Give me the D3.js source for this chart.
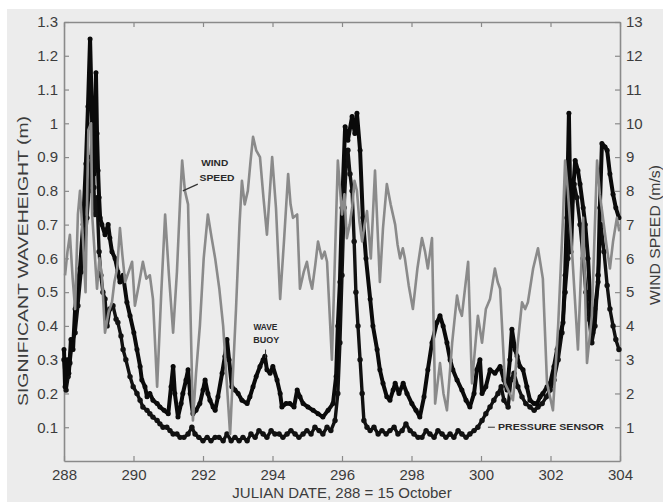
<!DOCTYPE html>
<html><head><meta charset="utf-8">
<script src="https://cdn.jsdelivr.net/npm/d3@7"></script>
<style>body{margin:0;background:#ececec}svg{display:block}</style>
</head><body>
<svg id="c" width="663" height="502"></svg>
<script>
// ---------- DATA ----------
const xTicks = [288,290,292,294,296,298,300,302,304];
const leftTicks = [0.1,0.2,0.3,0.4,0.5,0.6,0.7,0.8,0.9,1,1.1,1.2,1.3];
const leftTickLabels = ["0.1","0.2","0.3","0.4","0.5","0.6","0.7","0.8","0.9","1","1.1","1.2","1.3"];
const rightTicks = [1,2,3,4,5,6,7,8,9,10,11,12,13];

const windDay = [288.03,288.10,288.17,288.25,288.32,288.40,288.46,288.55,288.62,288.70,288.78,288.81,288.88,288.95,289.02,289.09,289.18,289.28,289.38,289.45,289.53,289.61,289.68,289.76,289.86,289.96,290.04,290.15,290.27,290.37,290.47,290.56,290.68,290.80,290.91,291.02,291.14,291.25,291.34,291.40,291.48,291.57,291.71,291.80,291.91,292.02,292.14,292.25,292.35,292.47,292.58,292.78,292.95,293.05,293.12,293.20,293.29,293.37,293.44,293.53,293.64,293.74,293.84,293.99,294.10,294.22,294.33,294.45,294.52,294.59,294.71,294.79,294.90,294.99,295.07,295.14,295.23,295.31,295.42,295.50,295.57,295.71,295.88,296.00,296.07,296.14,296.22,296.29,296.36,296.43,296.50,296.58,296.65,296.72,296.83,296.95,297.09,297.18,297.29,297.40,297.53,297.60,297.67,297.75,297.81,297.92,298.04,298.17,298.30,298.39,298.47,298.59,298.68,298.82,298.92,299.02,299.17,299.31,299.38,299.45,299.55,299.63,299.74,299.91,300.03,300.14,300.26,300.40,300.48,300.55,300.69,300.92,301.06,301.18,301.27,301.35,301.50,301.64,301.78,301.90,302.07,302.22,302.36,302.42,302.50,302.62,302.79,302.94,303.05,303.19,303.34,303.42,303.51,303.61,303.71,303.80,303.91,303.98];
const windSpeed = [5.5,6.2,6.7,5.4,4.5,7.3,8.0,6.5,5.0,9.8,10.0,7.3,6.2,5.1,6.0,5.5,3.8,4.4,4.7,5.3,5.7,6.9,6.1,5.3,5.6,5.9,4.6,5.2,5.9,5.4,5.5,4.8,2.2,5.0,7.3,5.5,3.8,5.6,7.7,8.9,8.0,7.6,1.2,2.6,4.0,6.0,7.3,6.6,6.0,5.1,4.0,0.8,4.5,7.0,8.3,7.6,8.0,8.9,9.6,9.2,9.0,7.8,6.7,9.0,7.5,4.8,6.5,8.5,7.6,7.2,7.3,5.1,5.6,5.9,5.4,5.1,5.8,6.5,6.0,6.2,5.9,3.0,8.9,7.3,7.9,6.6,7.0,7.5,8.3,8.0,7.1,6.5,7.0,7.4,6.0,8.6,5.3,6.9,8.2,7.6,7.0,6.4,6.0,6.3,6.0,5.2,4.5,5.7,6.6,6.2,5.7,6.6,1.7,2.9,2.0,1.5,3.5,4.9,4.5,4.3,5.2,5.9,2.3,4.3,3.5,4.5,4.8,5.7,5.3,5.1,2.3,1.8,3.5,4.7,4.5,4.7,5.7,6.3,5.4,2.3,1.5,4.0,7.2,8.9,8.0,6.2,3.3,7.2,2.9,4.3,8.9,7.9,7.2,6.4,5.7,6.5,7.2,6.8];

const buoyDay = [288.00,288.03,288.09,288.14,288.20,288.26,288.32,288.40,288.46,288.55,288.63,288.69,288.75,288.81,288.86,288.92,288.95,288.98,289.01,289.04,289.09,289.18,289.27,289.32,289.38,289.47,289.55,289.61,289.70,289.81,289.90,290.01,290.10,290.19,290.24,290.33,290.39,290.47,290.56,290.68,290.76,290.88,291.00,291.08,291.14,291.19,291.28,291.37,291.42,291.51,291.57,291.63,291.71,291.80,291.91,292.00,292.06,292.14,292.20,292.29,292.35,292.43,292.55,292.63,292.69,292.75,292.83,292.92,293.01,293.12,293.27,293.35,293.44,293.53,293.64,293.73,293.78,293.84,293.93,294.01,294.13,294.22,294.27,294.39,294.50,294.62,294.71,294.79,294.88,295.02,295.17,295.31,295.45,295.60,295.74,295.83,295.88,295.94,296.00,296.09,296.17,296.29,296.37,296.43,296.52,296.60,296.69,296.81,296.89,297.01,297.09,297.18,297.29,297.38,297.47,297.53,297.64,297.76,297.87,298.01,298.13,298.24,298.36,298.47,298.59,298.73,298.82,298.91,299.02,299.11,299.19,299.31,299.45,299.57,299.68,299.80,299.88,299.97,300.03,300.14,300.26,300.40,300.55,300.66,300.75,300.83,300.89,300.98,301.04,301.12,301.21,301.32,301.41,301.53,301.61,301.70,301.78,301.90,301.99,302.10,302.19,302.27,302.36,302.42,302.47,302.53,302.59,302.65,302.71,302.79,302.85,302.94,303.00,303.08,303.14,303.22,303.28,303.37,303.42,303.48,303.57,303.63,303.71,303.80,303.88,303.97];
const buoyHs = [0.33,0.22,0.30,0.26,0.36,0.33,0.45,0.53,0.57,0.70,0.88,1.05,1.25,1.00,0.85,1.15,0.97,0.86,0.78,0.72,0.70,0.67,0.70,0.66,0.62,0.60,0.56,0.53,0.55,0.47,0.43,0.38,0.33,0.28,0.24,0.22,0.19,0.20,0.18,0.17,0.16,0.15,0.14,0.22,0.28,0.20,0.13,0.17,0.20,0.24,0.27,0.20,0.14,0.15,0.17,0.21,0.24,0.20,0.18,0.16,0.15,0.19,0.26,0.31,0.36,0.30,0.22,0.21,0.20,0.18,0.17,0.19,0.22,0.25,0.28,0.30,0.31,0.27,0.26,0.28,0.24,0.20,0.16,0.17,0.17,0.16,0.21,0.19,0.17,0.16,0.15,0.14,0.13,0.15,0.17,0.25,0.40,0.53,0.75,0.99,0.95,1.02,0.97,1.03,0.92,0.72,0.60,0.48,0.40,0.33,0.27,0.23,0.19,0.18,0.21,0.23,0.20,0.23,0.20,0.17,0.15,0.13,0.19,0.27,0.35,0.41,0.43,0.40,0.35,0.30,0.27,0.24,0.21,0.18,0.16,0.20,0.27,0.30,0.20,0.22,0.27,0.26,0.28,0.24,0.21,0.30,0.39,0.33,0.31,0.28,0.27,0.22,0.18,0.17,0.17,0.19,0.20,0.22,0.23,0.28,0.33,0.37,0.41,0.55,0.72,1.03,0.62,0.80,0.89,0.86,0.82,0.75,0.70,0.60,0.48,0.38,0.45,0.53,0.75,0.94,0.93,0.92,0.85,0.79,0.75,0.72];

const pressDay = [288.00,288.06,288.12,288.17,288.23,288.32,288.40,288.49,288.58,288.66,288.72,288.78,288.83,288.86,288.89,288.95,289.01,289.06,289.12,289.18,289.24,289.32,289.41,289.50,289.55,289.64,289.70,289.78,289.90,289.99,290.10,290.19,290.27,290.39,290.47,290.56,290.68,290.76,290.85,290.96,291.05,291.14,291.25,291.34,291.45,291.57,291.68,291.77,291.88,292.00,292.12,292.23,292.35,292.46,292.58,292.69,292.81,292.92,293.04,293.15,293.27,293.38,293.50,293.61,293.73,293.84,293.96,294.07,294.19,294.30,294.42,294.53,294.65,294.76,294.88,294.99,295.11,295.22,295.34,295.45,295.57,295.68,295.80,295.88,295.94,296.00,296.06,296.12,296.17,296.23,296.29,296.35,296.40,296.46,296.52,296.58,296.63,296.72,296.81,296.92,297.04,297.15,297.27,297.38,297.50,297.61,297.73,297.84,297.96,298.07,298.19,298.30,298.42,298.53,298.65,298.76,298.88,298.99,299.11,299.22,299.34,299.45,299.57,299.68,299.80,299.91,300.03,300.14,300.26,300.37,300.49,300.58,300.66,300.78,300.86,300.95,301.06,301.18,301.29,301.41,301.53,301.64,301.76,301.88,301.99,302.10,302.22,302.33,302.42,302.50,302.59,302.68,302.76,302.85,302.94,303.02,303.11,303.19,303.28,303.37,303.45,303.54,303.63,303.71,303.80,303.88,303.97];
const pressHs = [0.30,0.21,0.25,0.29,0.35,0.38,0.46,0.56,0.62,0.72,0.80,0.90,1.00,0.81,0.73,0.78,0.62,0.55,0.50,0.48,0.40,0.45,0.46,0.42,0.41,0.37,0.33,0.30,0.25,0.22,0.20,0.18,0.16,0.15,0.14,0.13,0.12,0.11,0.10,0.10,0.09,0.08,0.08,0.07,0.07,0.08,0.10,0.08,0.07,0.06,0.07,0.06,0.07,0.07,0.06,0.08,0.06,0.07,0.06,0.07,0.06,0.08,0.07,0.09,0.08,0.07,0.09,0.08,0.08,0.07,0.08,0.09,0.08,0.07,0.08,0.09,0.08,0.10,0.09,0.08,0.10,0.09,0.12,0.20,0.35,0.55,0.75,0.88,0.92,0.85,0.80,0.65,0.50,0.40,0.30,0.20,0.12,0.10,0.09,0.10,0.08,0.09,0.08,0.09,0.10,0.08,0.09,0.11,0.09,0.08,0.07,0.07,0.09,0.08,0.07,0.09,0.08,0.07,0.08,0.07,0.09,0.08,0.07,0.08,0.09,0.10,0.12,0.14,0.16,0.18,0.20,0.22,0.18,0.16,0.24,0.26,0.22,0.19,0.17,0.16,0.15,0.16,0.17,0.19,0.21,0.24,0.30,0.38,0.50,0.60,0.72,0.82,0.78,0.70,0.60,0.50,0.42,0.35,0.40,0.55,0.70,0.62,0.52,0.45,0.40,0.36,0.33];

const annotations = [
  {text:"WIND", day:291.95, val:8.75, axis:"R", len:27},
  {text:"SPEED", day:291.9, val:8.3, axis:"R", len:35},
  {text:"WAVE", day:293.45, val:0.388, axis:"L", len:24},
  {text:"BUOY", day:293.45, val:0.35, axis:"L", len:26},
  {text:"PRESSURE SENSOR", day:300.49, val:0.092, axis:"L", len:106}
];

// ---------- CHART ----------
const W = 663, H = 502;
const m = {l:64, r:620, t:22, b:461};
const svg = d3.select("#c");
svg.append("rect").attr("width",W).attr("height",H).attr("fill","#ececec");
svg.append("rect").attr("width",W).attr("height",9).attr("fill","#ffffff");
svg.append("rect").attr("width",7).attr("height",H).attr("fill","#ffffff");

const x = d3.scaleLinear().domain([288,304]).range([m.l,m.r]);
const yL = d3.scaleLinear().domain([0,1.3]).range([m.b,m.t]);
const yR = d3.scaleLinear().domain([0,13]).range([m.b,m.t]);

const font = "'Liberation Sans', Arial, sans-serif";
const txtCol = "#3c3c3c";
const axCol = "#8a8a8a";

function styleAxis(g){
  g.selectAll(".domain").attr("stroke",axCol).attr("stroke-width",1.6);
  g.selectAll(".tick line").attr("stroke",axCol).attr("stroke-width",1.2);
  g.selectAll(".tick text").attr("fill",txtCol).style("font-family",font).style("font-size","15px");
}

svg.append("g").attr("transform",`translate(0,${m.b})`)
  .call(d3.axisBottom(x).tickValues(xTicks).tickFormat(d3.format("d")).tickSizeInner(-5).tickSizeOuter(0).tickPadding(8))
  .call(styleAxis);
svg.append("g").attr("transform",`translate(0,${m.t})`)
  .call(d3.axisTop(x).tickValues(xTicks).tickFormat("").tickSizeInner(-5).tickSizeOuter(0))
  .call(styleAxis);
svg.append("g").attr("transform",`translate(${m.l},0)`)
  .call(d3.axisLeft(yL).tickValues(leftTicks).tickFormat((d,i)=>leftTickLabels[i]).tickSizeInner(-5).tickSizeOuter(0).tickPadding(6))
  .call(styleAxis);
svg.append("g").attr("transform",`translate(${m.r},0)`)
  .call(d3.axisRight(yR).tickValues(rightTicks).tickFormat(d3.format("d")).tickSizeInner(-5).tickSizeOuter(0).tickPadding(6))
  .call(styleAxis);

// series
const lineL = d3.line().x(d=>x(d[0])).y(d=>yL(d[1]));
const lineR = d3.line().x(d=>x(d[0])).y(d=>yR(d[1]));
const pressData = pressDay.map((d,i)=>[d,pressHs[i]]);
const buoyData = buoyDay.map((d,i)=>[d,buoyHs[i]]);
const windData = windDay.map((d,i)=>[d,windSpeed[i]]);

svg.append("path").datum(pressData).attr("d",lineL).attr("fill","none")
  .attr("stroke","#111").attr("stroke-width",3.4).attr("stroke-linejoin","round");
svg.append("g").selectAll("circle").data(pressData).join("circle")
  .attr("cx",d=>x(d[0])).attr("cy",d=>yL(d[1])).attr("r",2.7).attr("fill","#111");

svg.append("path").datum(buoyData).attr("d",lineL).attr("fill","none")
  .attr("stroke","#0a0a0a").attr("stroke-width",4).attr("stroke-linejoin","round");
svg.append("g").selectAll("circle").data(buoyData).join("circle")
  .attr("cx",d=>x(d[0])).attr("cy",d=>yL(d[1])).attr("r",2.5).attr("fill","#0a0a0a");

svg.append("path").datum(windData).attr("d",lineR).attr("fill","none")
  .attr("stroke","#8a8a8a").attr("stroke-width",2.6).attr("stroke-linejoin","round");

// annotations
annotations.forEach(a=>{
  const yy = a.axis==="R" ? yR(a.val) : yL(a.val);
  svg.append("text").attr("x",x(a.day)).attr("y",yy).text(a.text)
    .attr("textLength",a.len).attr("lengthAdjust","spacingAndGlyphs")
    .style("font-family",font).style("font-size","8.5px").style("font-weight","bold").attr("fill","#2a2a2a");
});
// pointers
svg.append("line").attr("x1",x(291.42)).attr("y1",yR(8.0)).attr("x2",x(291.85)).attr("y2",yR(8.2)).attr("stroke","#333").attr("stroke-width",1.2);
svg.append("line").attr("x1",x(293.8)).attr("y1",yL(0.33)).attr("x2",x(293.8)).attr("y2",yL(0.305)).attr("stroke","#333").attr("stroke-width",1);
svg.append("line").attr("x1",x(300.2)).attr("y1",yL(0.1)).attr("x2",x(300.4)).attr("y2",yL(0.1)).attr("stroke","#333").attr("stroke-width",1);

// axis titles
svg.append("text").attr("transform","translate(28,261) rotate(-90)").attr("text-anchor","middle")
  .text("SIGNIFICANT WAVEHEIGHT (m)").attr("textLength",290).attr("lengthAdjust","spacingAndGlyphs")
  .style("font-family",font).style("font-size","15px").attr("fill",txtCol);
svg.append("text").attr("transform","translate(660,235) rotate(-90)").attr("text-anchor","middle")
  .text("WIND SPEED (m/s)").attr("textLength",140).attr("lengthAdjust","spacingAndGlyphs")
  .style("font-family",font).style("font-size","15px").attr("fill",txtCol);
svg.append("text").attr("x",342).attr("y",498).attr("text-anchor","middle")
  .text("JULIAN DATE, 288 = 15 October")
  .style("font-family",font).style("font-size","15px").attr("fill",txtCol);
</script>
</body></html>
